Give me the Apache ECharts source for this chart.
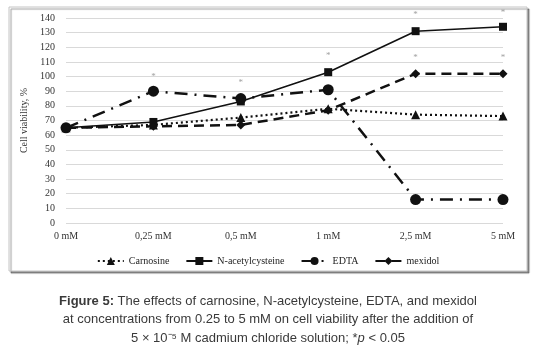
<!DOCTYPE html>
<html>
<head>
<meta charset="utf-8">
<script src="https://cdn.jsdelivr.net/npm/echarts@6/dist/echarts.min.js"></script>
<style>
  html, body { margin: 0; padding: 0; background: #fff; }
  #chart { width: 536px; height: 351px; }
</style>
</head>
<body>
<div id="chart"></div>
<script>
const categories = ['0 mM', '0,25 mM', '0,5 mM', '1 mM', '2,5 mM', '5 mM']
const carnosine = [65, 67, 72, 78, 74, 73]
const acetylcysteine = [65, 69, 83, 103, 131, 134]
const edta = [65, 90, 85, 91, 16, 16]
const mexidol = [65, 66, 67, 77, 102, 102]
// significance marks (* p < 0.05), placed above the points
const stars = [['0,25 mM', 100], ['0,5 mM', 96], ['1 mM', 114], ['2,5 mM', 142], ['2,5 mM', 113], ['5 mM', 144], ['5 mM', 113]]

const serif = '"Liberation Serif", "DejaVu Serif", serif'
const sans = '"Liberation Sans", Arial, sans-serif'

const chart = echarts.init(document.getElementById('chart'))

chart.setOption({
    animation: false,
    textStyle: { fontFamily: serif },
    grid: { left: 66, right: 33, top: 18, bottom: 128 },
    graphic: [
        {
            type: 'rect',
            z: -10,
            shape: { x: 9, y: 7, width: 518, height: 264 },
            style: { fill: '#fff', stroke: '#c4c4c4', lineWidth: 1, shadowColor: 'rgba(0,0,0,0.4)', shadowOffsetX: 2, shadowOffsetY: 2, shadowBlur: 1 }
        },
        {
            type: 'text',
            x: 268,
            y: 292,
            style: {
                text: '{b|Figure 5:} The effects of carnosine, N-acetylcysteine, EDTA, and mexidol\nat concentrations from 0.25 to 5 mM on cell viability after the addition of\n5 × 10⁻⁵ M cadmium chloride solution; *{i|p} < 0.05',
                font: '13px ' + sans,
                fill: '#3a3a3a',
                align: 'center',
                verticalAlign: 'top',
                lineHeight: 18.5,
                rich: {
                    b: { fontWeight: 'bold', fontSize: 13, fontFamily: sans, fill: '#3a3a3a' },
                    i: { fontStyle: 'italic', fontSize: 13, fontFamily: sans, fill: '#3a3a3a' }
                }
            }
        }
    ],
    legend: {
        top: 251,
        left: 'center',
        itemWidth: 26,
        itemHeight: 10,
        itemGap: 16,
        textStyle: { fontFamily: serif, fontSize: 10, color: '#222' },
        data: ['Carnosine', 'N-acetylcysteine', 'EDTA', 'mexidol']
    },
    xAxis: {
        type: 'category',
        data: categories,
        boundaryGap: false,
        axisLine: { show: false },
        axisTick: { show: false },
        axisLabel: { fontFamily: serif, fontSize: 10, color: '#333', margin: 8 }
    },
    yAxis: {
        type: 'value',
        min: 0,
        max: 140,
        interval: 10,
        name: 'Cell viability, %',
        nameLocation: 'middle',
        nameGap: 28,
        nameTextStyle: { fontFamily: serif, fontSize: 10, color: '#333' },
        axisLabel: { fontFamily: serif, fontSize: 10, color: '#333', margin: 11 },
        splitLine: { lineStyle: { color: '#d9d9d9' } }
    },
    series: [
        {
            name: 'Carnosine',
            type: 'line',
            data: carnosine,
            symbol: 'triangle',
            symbolSize: 9,
            color: '#111',
            lineStyle: { type: [2, 3], width: 2.2, color: '#111' },
            itemStyle: { color: '#111' }
        },
        {
            name: 'N-acetylcysteine',
            type: 'line',
            data: acetylcysteine,
            symbol: 'rect',
            symbolSize: 8,
            color: '#111',
            lineStyle: { type: 'solid', width: 1.6, color: '#111' },
            itemStyle: { color: '#111' }
        },
        {
            name: 'EDTA',
            type: 'line',
            data: edta,
            symbol: 'circle',
            symbolSize: 11,
            color: '#111',
            lineStyle: { type: [13, 7, 2, 7], width: 2.5, color: '#111' },
            itemStyle: { color: '#111' }
        },
        {
            name: 'mexidol',
            type: 'line',
            data: mexidol,
            symbol: 'diamond',
            symbolSize: 9,
            color: '#111',
            lineStyle: { type: [10, 6], width: 2.5, color: '#111' },
            itemStyle: { color: '#111' }
        },
        {
            name: 'stars',
            type: 'scatter',
            data: stars,
            symbolSize: 0,
            silent: true,
            clip: false,
            label: {
                show: true,
                position: 'inside',
                formatter: '*',
                fontSize: 9,
                color: '#888',
                fontFamily: serif
            }
        }
    ]
})
</script>
</body>
</html>
